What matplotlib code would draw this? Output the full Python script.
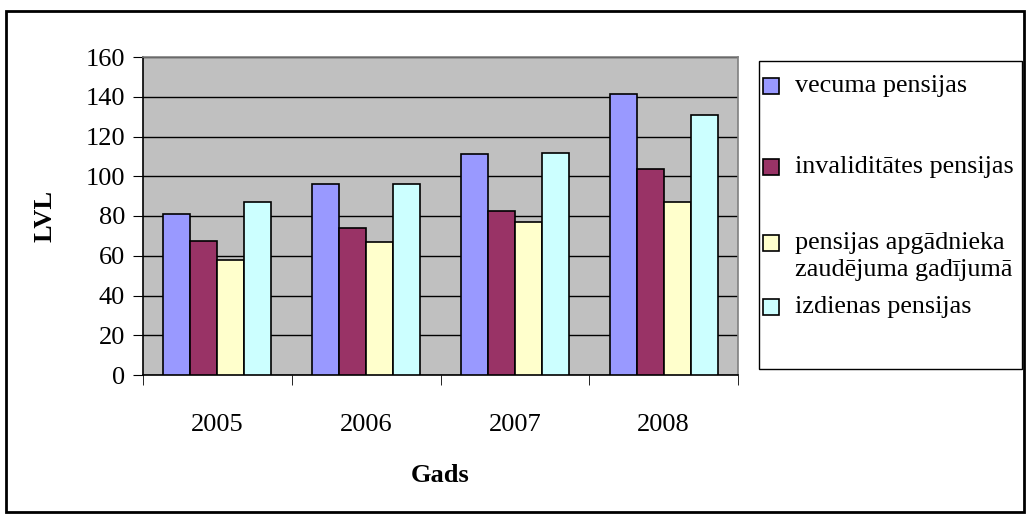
import matplotlib
matplotlib.use("Agg")
import matplotlib.pyplot as plt
from matplotlib.patches import Rectangle
import numpy as np

plt.rcParams["font.family"] = ["Liberation Serif", "DejaVu Serif"]

years = ["2005", "2006", "2007", "2008"]
series = [
    "vecuma pensijas",
    "invaliditātes pensijas",
    "pensijas apgādnieka\nzaudējuma gadījumā",
    "izdienas pensijas",
]
vecuma = [80.8, 96.0, 111.0, 141.4]
invaliditates = [67.4, 74.1, 82.5, 103.5]
apgadnieka = [57.9, 67.0, 76.8, 87.2]
izdienas = [87.2, 96.0, 111.9, 130.8]
colors = ["#9999FF", "#993366", "#FFFFCC", "#CCFFFF"]

values = [vecuma, invaliditates, apgadnieka, izdienas]

W, H = 1029, 517
fig = plt.figure(figsize=(W / 100, H / 100), dpi=100)

# outer frame around the whole chart
fig.patches.append(Rectangle((6 / W, 5 / H), 1018 / W, 501 / H, transform=fig.transFigure,
                             fill=False, edgecolor="black", linewidth=2))

ax = fig.add_axes([143 / W, (H - 375) / H, 595 / W, 318 / H])
ax.set_facecolor("#C0C0C0")

x = np.arange(len(years))
w = 1 / 5.5
for i, (vals, c) in enumerate(zip(values, colors)):
    ax.bar(x + (i - 1.5) * w, vals, width=w, color=c, edgecolor="black", linewidth=1.2, zorder=3)

ax.set_xlim(-0.5, 3.5)
ax.set_ylim(0, 160)
ax.set_yticks(range(0, 161, 20))
ax.yaxis.grid(True, color="black", linewidth=1)
ax.set_axisbelow(True)

ax.set_xticks(x)
ax.set_xticklabels(years)
ax.set_xticks(np.arange(-0.5, 4, 1), minor=True)
ax.tick_params(axis="x", which="major", length=0, pad=28, labelsize=19)
ax.tick_params(axis="x", which="minor", length=7, direction="out", color="black")
ax.tick_params(axis="y", length=7, direction="out", labelsize=19, pad=6)

for s in ["top", "right"]:
    ax.spines[s].set_color("#808080")
    ax.spines[s].set_linewidth(1.2)
for s in ["left", "bottom"]:
    ax.spines[s].set_color("black")
    ax.spines[s].set_linewidth(1.2)

ax.set_ylabel("LVL", fontsize=19, fontweight="bold", labelpad=21)
ax.set_xlabel("Gads", fontsize=19, fontweight="bold", labelpad=20)

# legend box drawn by hand so entry spacing follows the original layout
fig.patches.append(Rectangle((759 / W, (H - 369) / H), 263 / W, 308 / H, transform=fig.transFigure,
                             facecolor="white", edgecolor="black", linewidth=1))
entry_y = [86, 167, 243, 307]
for label, c, yy in zip(series, colors, entry_y):
    fig.patches.append(Rectangle((763 / W, (H - yy - 8) / H), 16 / W, 16 / H, transform=fig.transFigure,
                                 facecolor=c, edgecolor="black", linewidth=1.2))
    for k, ln in enumerate(label.split("\n")):
        fig.text(795 / W, (H - yy - k * 27) / H, ln, fontsize=18.8, va="center", ha="left")

fig.savefig("out.png", dpi=100)
